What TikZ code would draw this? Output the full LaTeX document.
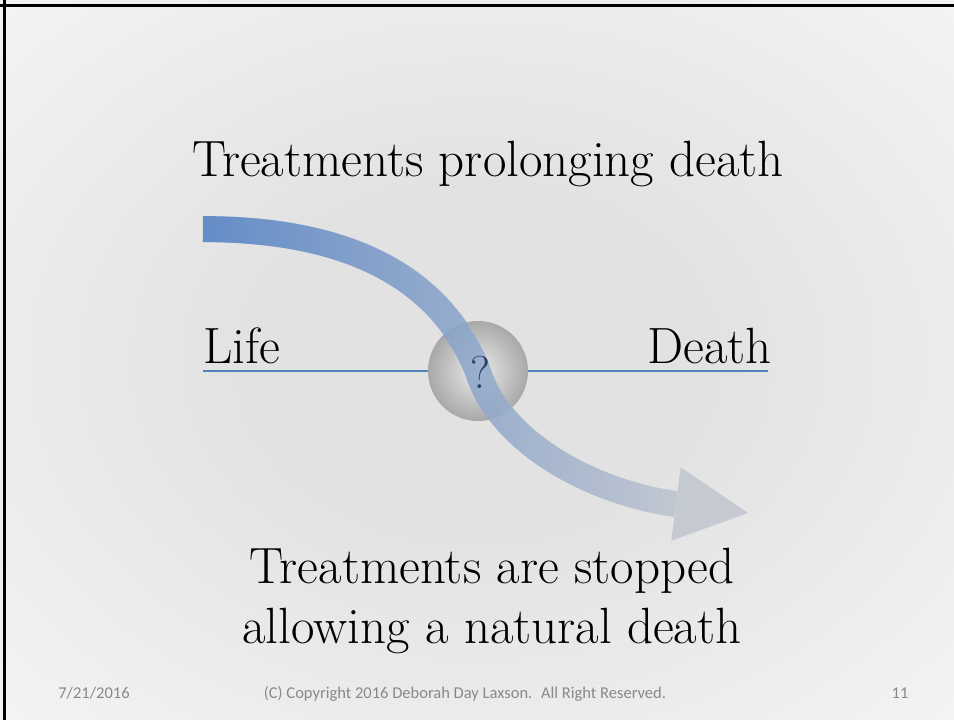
\documentclass[tikz,border=0pt]{standalone}
\usepackage{fontspec}
\newfontfamily\footfont{Carlito}
\usetikzlibrary{positioning, fadings, calc}
\definecolor{bandblue}{RGB}{80,128,196}
\definecolor{bandgray}{RGB}{192,198,208}
\definecolor{lineblue}{RGB}{79,129,189}
\definecolor{qnavy}{RGB}{28,50,90}
\definecolor{footgray}{RGB}{137,137,137}
\definecolor{bgin}{RGB}{226,226,226}
\definecolor{bgout}{RGB}{250,250,250}
\tikzfading[name=bandfade, left color=transparent!0, middle color=transparent!20, right color=transparent!100]
\pgfdeclareradialshading{slidebg}{\pgfpoint{0bp}{0bp}}{color(0bp)=(bgin); color(12bp)=(bgin); color(44bp)=(bgout); color(50bp)=(bgout)}

\begin{document}
\begin{tikzpicture}[
		x=1pt, y=-1pt,
		big/.style={font=\fontsize{51}{60}\selectfont, text=black, inner sep=0pt},
		foot/.style={font=\footfont\fontsize{16.5}{18}\selectfont, text=footgray, inner sep=0pt, anchor=base},
		band/.style={line width=26pt}
	]
		\useasboundingbox (0,0) rectangle (954,720);
		\shade[shading=slidebg] (0,0) rectangle (954,720);
		\draw[black, line width=3pt] (0,5.5) -- (954,5.5);
		\draw[black, line width=3pt] (4.5,0) -- (4.5,720);
		% labels
		\node[big, anchor=base] (title) at (488,176) {Treatments prolonging death};
		\node[big, anchor=base west] (life) at (203,363) {Life};
		\node[big, anchor=base east] (death) at (772,363) {Death};
		\node[big, anchor=base, align=center] (stopped) at (492,643) {Treatments are stopped\\ allowing a natural death};
		% axis and ball
		\coordinate (lstart) at (203,371);
		\coordinate (lend) at (768,371);
		\draw[lineblue, line width=2.5pt] (lstart) -- (lend);
		\node[circle, minimum size=100pt, inner sep=0pt, shading=radial, inner color=gray!15, outer color=gray!68] (ball) at (478,371) {};
		% curved arrow
		\coordinate (bstart) at (203,229);
		\coordinate (bend) at (676,504);
		\coordinate (tip) at (748,513);
		\begin{scope}[transparency group, opacity=0.88]
			\draw[band, bandgray] (bstart) .. controls (380,229) and (450,300) .. (ball.center) .. controls (502,447) and (600,494) .. (bend);
			\draw[band, bandblue, path fading=bandfade] (bstart) .. controls (380,229) and (450,300) .. (ball.center) .. controls (502,447) and (600,494) .. (bend);
			\fill[bandgray] ($(bend)+(4.7,-36.7)$) -- (tip) -- ($(bend)+(-4.7,36.7)$) -- cycle;
		\end{scope}
		\node[font=\fontsize{46}{46}\selectfont, text=qnavy, opacity=0.9] (q) at (480,372) {?};
		% footer
		\node[foot] (date) at (94,698) {7/21/2016};
		\node[foot] (copy) at (465,698) {(C) Copyright 2016 Deborah Day Laxson.~ All Right Reserved.};
		\node[foot] (page) at (900,698) {11};
	\end{tikzpicture}
\end{document}
